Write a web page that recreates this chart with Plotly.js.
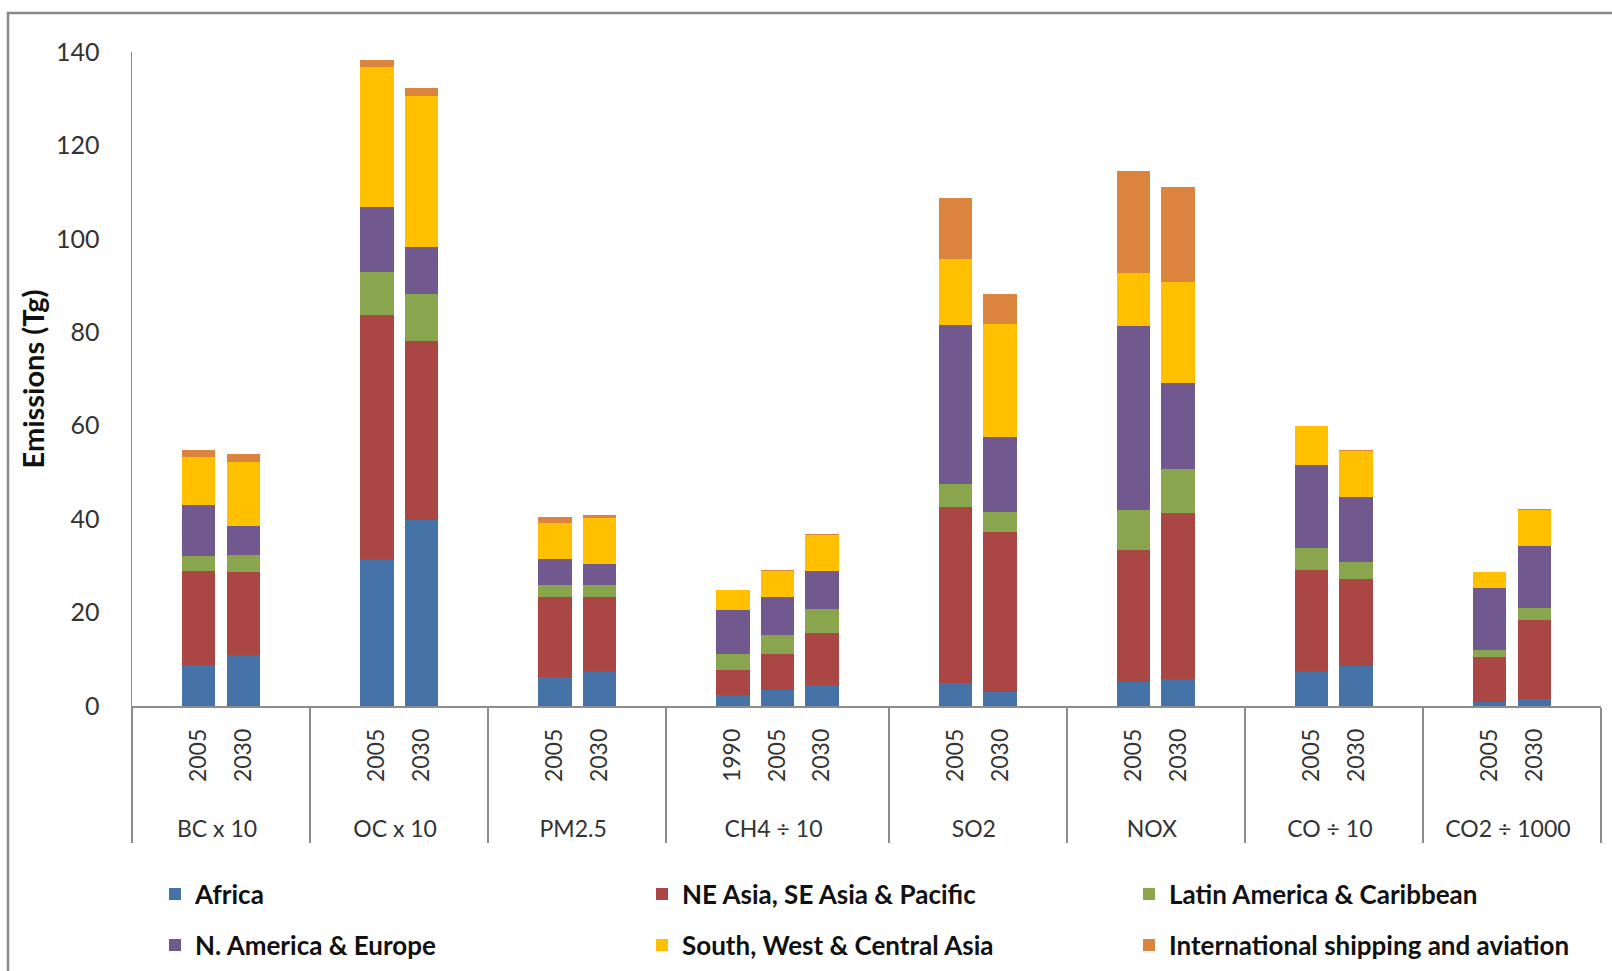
<!DOCTYPE html>
<html>
<head>
<meta charset="utf-8">
<script src="https://cdn.plot.ly/plotly-3.0.1.min.js"></script>
<style>html,body{margin:0;padding:0;background:#fff;}#chart{width:1612px;height:971px;}</style>
</head>
<body>
<div id="chart"></div>
<script>
// Groups (pollutants) and the years shown in each group
const groups = ["BC x 10", "OC x 10", "PM2.5", "CH4 ÷ 10", "SO2", "NOX", "CO ÷ 10", "CO2 ÷ 1000"];
const groupYears = [
  ["2005", "2030"],
  ["2005", "2030"],
  ["2005", "2030"],
  ["1990", "2005", "2030"],
  ["2005", "2030"],
  ["2005", "2030"],
  ["2005", "2030"],
  ["2005", "2030"]
];

// Series values, one per bar in order (BC05, BC30, OC05, OC30, PM05, PM30, CH4 90, CH4 05, CH4 30, SO2 05, SO2 30, NOX 05, NOX 30, CO 05, CO 30, CO2 05, CO2 30)
const africa   = [8.7, 11.0, 31.5, 39.8, 6.2, 7.4, 2.3, 3.5, 4.6, 5.0, 2.9, 5.1, 5.7, 7.4, 8.6, 0.9, 1.4];
const neAsia   = [20.2, 17.6, 52.3, 38.4, 17.1, 15.9, 5.5, 7.6, 11.1, 37.5, 34.4, 28.3, 35.7, 21.7, 18.5, 9.5, 17.1];
const latAm    = [3.3, 3.7, 9.1, 9.9, 2.7, 2.7, 3.3, 4.1, 5.1, 5.0, 4.2, 8.5, 9.3, 4.8, 3.7, 1.5, 2.4];
const nAmEur   = [10.8, 6.3, 13.9, 10.1, 5.4, 4.5, 9.4, 8.1, 8.2, 34.0, 16.1, 39.4, 18.5, 17.7, 14.0, 13.4, 13.4];
const swcAsia  = [10.3, 13.7, 29.9, 32.4, 7.8, 9.7, 4.3, 5.7, 7.7, 14.2, 24.1, 11.4, 21.5, 8.4, 9.8, 3.3, 7.7];
const intlShip = [1.4, 1.6, 1.5, 1.6, 1.2, 0.7, 0.0, 0.1, 0.1, 13.0, 6.4, 21.8, 20.4, 0.0, 0.2, 0.1, 0.1];

const seriesNames = ["Africa", "NE Asia, SE Asia & Pacific", "Latin America & Caribbean",
                     "N. America & Europe", "South, West & Central Asia", "International shipping and aviation"];
const seriesValues = [africa, neAsia, latAm, nAmEur, swcAsia, intlShip];
const seriesColors = ["#4572A7", "#AA4643", "#89A54E", "#71588F", "#FFC000", "#DB843D"];

// Build the multicategory points: an empty slot at each side of every group
const pts = [];   // {g, sub, b}
let k = 0;
groups.forEach((g, gi) => {
  pts.push({ g: g, sub: " ", b: -1 });
  groupYears[gi].forEach(y => { pts.push({ g: g, sub: y, b: k++ }); });
  pts.push({ g: g, sub: "  ", b: -1 });
});
// point order controls Plotly's category order: register groups first, then the earliest year
const firstPts = pts.filter(p => p.sub === " ");
const yearOrder = ["1990", "2005", "2030"];
yearOrder.forEach(yr => { const p = pts.find(q => q.sub === yr); if (p) firstPts.push(p); });
const ordered = firstPts.concat(pts.filter(p => firstPts.indexOf(p) < 0));
const PAD = "\u00a0\u00a0\u00a0\u00a0";
const xLevel0 = ordered.map(p => p.g);
const xLevel1 = ordered.map(p => (p.b < 0 ? p.sub : PAD + p.sub));

const FONT = "Lato, 'Open Sans', sans-serif";
const legendIds = ["legend", "legend2", "legend3", "legend4", "legend5", "legend6"];
const traces = seriesNames.map((name, si) => ({
  type: "bar",
  name: name,
  x: [xLevel0, xLevel1],
  y: ordered.map(p => p.b < 0 ? null : seriesValues[si][p.b]),
  marker: { color: seriesColors[si], line: { width: 0 } },
  legend: legendIds[si],
  hoverinfo: "name+y"
}));

// plot area geometry (pixels)
const W = 1612, H = 971, mL = 132, mR = 11, mT = 52, mB = 265;
const pw = W - mL - mR, ph = H - mT - mB;
const px = v => (v - mL) / pw;
const py = v => (H - mB - v) / ph;

const colX = [155, 642, 1129];
const rowY = [894, 945];
function legendAt(col, row) {
  return {
    orientation: "h", xref: "container", yref: "container",
    x: colX[col] / W, y: 1 - rowY[row] / H, xanchor: "left", yanchor: "middle",
    font: { family: FONT, size: 26, color: "#111", weight: "bold" },
    itemwidth: 30, bgcolor: "rgba(0,0,0,0)", borderwidth: 0
  };
}

const layout = {
  width: W, height: H,
  margin: { l: mL, r: mR, t: mT, b: mB },
  paper_bgcolor: "#fff", plot_bgcolor: "#fff",
  barmode: "stack", bargap: 0.25,
  font: { family: FONT, color: "#333" },
  showlegend: true,
  legend: legendAt(0, 0), legend2: legendAt(1, 0), legend3: legendAt(2, 0),
  legend4: legendAt(0, 1), legend5: legendAt(1, 1), legend6: legendAt(2, 1),
  xaxis: {
    type: "multicategory", automargin: false,
    showline: true, linecolor: "#8c8c8c", linewidth: 1.5,
    showgrid: false, zeroline: false,
    ticks: "", ticklabelstandoff: 12,
    tickangle: -90,
    tickfont: { family: FONT, size: 23, color: "#333" },
    showdividers: true, dividercolor: "#8c8c8c", dividerwidth: 1.5
  },
  yaxis: {
    range: [0, 140], dtick: 20, tick0: 0, automargin: false,
    showline: true, linecolor: "#8c8c8c", linewidth: 1.5,
    showgrid: false, zeroline: false, ticks: "",
    ticklabelstandoff: 26,
    tickfont: { family: FONT, size: 25, color: "#333" },
    title: { text: "Emissions (Tg)", font: { family: FONT, size: 29, color: "#111", weight: "bold" }, standoff: 3 }
  },
  shapes: [{
    type: "rect", xref: "paper", yref: "paper",
    x0: px(8), x1: px(1630), y0: py(990), y1: py(13),
    line: { color: "#888", width: 2.5 }, fillcolor: "rgba(0,0,0,0)", layer: "below"
  }]
};

Plotly.newPlot("chart", traces, layout, { displayModeBar: false, staticPlot: true });
</script>
</body>
</html>
